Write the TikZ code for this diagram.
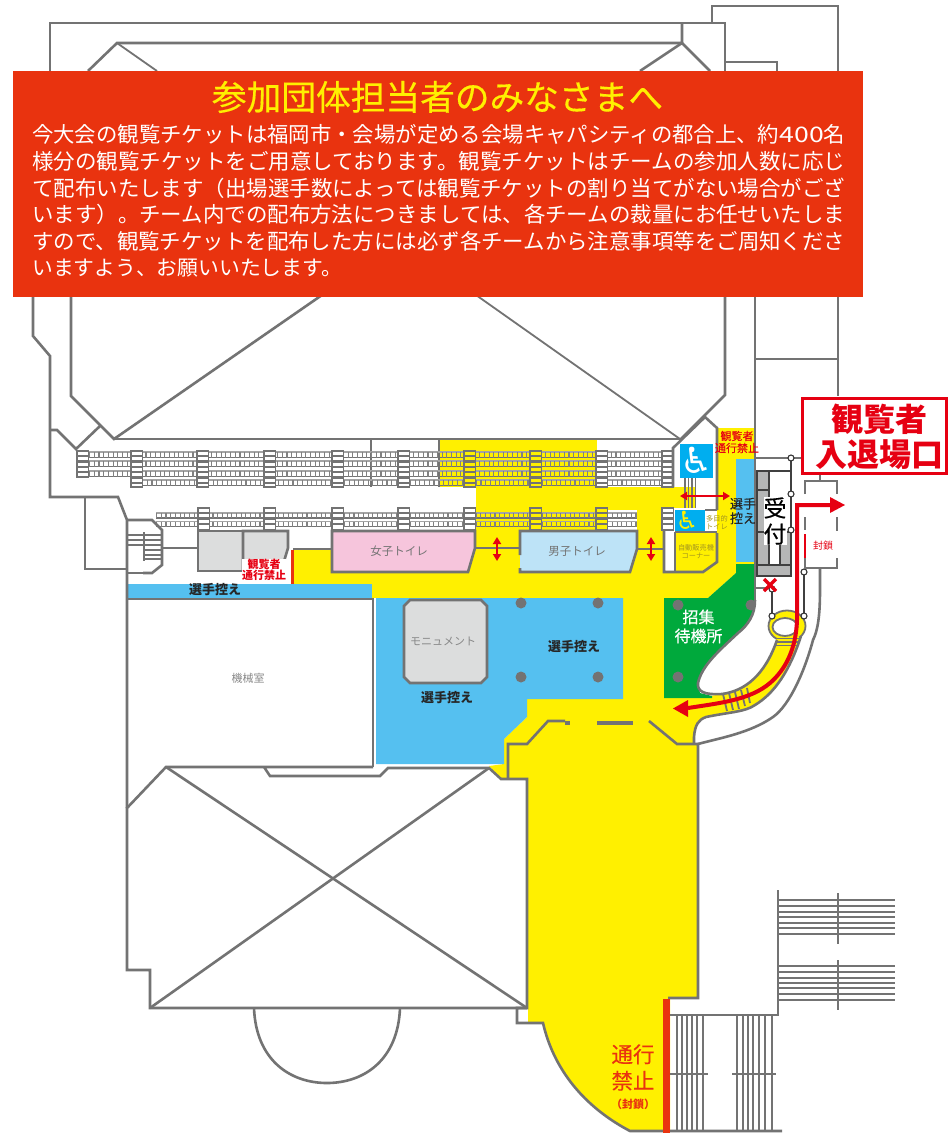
\documentclass[tikz,border=0pt]{standalone}
\usepackage{fontspec}
\usepackage{graphicx}
\usetikzlibrary{arrows.meta}
\setmainfont{Noto Sans CJK JP}
\newfontfamily\djv{DejaVu Sans}
\definecolor{wallc}{HTML}{737373}
\definecolor{yel}{HTML}{FFF000}
\definecolor{sky}{HTML}{55C0F0}
\definecolor{grn}{HTML}{00A93C}
\definecolor{banc}{HTML}{E9330F}
\definecolor{redc}{HTML}{E60012}
\definecolor{roomg}{HTML}{DCDDDD}
\definecolor{pinkc}{HTML}{F6C5DC}
\definecolor{bluec}{HTML}{BDE3F7}
\definecolor{wcblue}{HTML}{00AEEF}
\definecolor{tanc}{HTML}{A39520}
\definecolor{recg}{HTML}{B5B6B6}
\newcommand{\fz}[1]{\fontsize{#1pt}{#1pt}\selectfont}
\newcommand{\semib}{\addfontfeature{FakeBold=0.35}}
\tikzset{
 wall/.style={draw=wallc,line width=2.6pt,line join=miter},
 thinwall/.style={draw=wallc,line width=1.8pt},
 lbl/.style={inner sep=0pt,align=center},
 rung/.style={draw=wallc,line width=2.3pt},
 stairbox/.style={draw=wallc,line width=1.9pt},
 stairline/.style={draw=wallc,line width=2.8pt},
 pin/.style={circle,draw=black!80,fill=white,line width=1.1pt,inner sep=0pt,minimum size=6pt},
 pinline/.style={draw=black!75,line width=1.4pt},
 dbl/.style={draw=redc,line width=2pt,{Triangle[width=8pt,length=7pt]}-{Triangle[width=8pt,length=7pt]}},
 route/.style={draw=redc,line width=4pt},
 pillar/.style={fill=wallc,draw=none},
 bodytxt/.style={lbl,anchor=west,text=white,font=\fz{20.8}},
}
\newcommand{\seatrow}[4]{% x1 x2 y h
 \draw[draw=wallc!65,line width=1.1pt] (#1,#3) -- (#2,#3);
 \draw[draw=wallc,line width=1.4pt] (#1,{#3+#4}) -- (#2,{#3+#4});
 \draw[draw=wallc!90,line width=#4pt,dash pattern=on 1.1pt off 3.6pt] (#1,{#3+#4/2}) -- (#2,{#3+#4/2});
}
\newcommand{\stairblock}[4]{% x y1 y2 fill
 \draw[stairbox,fill=#4] (#1,#2) rectangle ({#1+11.5},#3);
 \pgfmathtruncatemacro\nr{(#3-#2)/5.3-0.3}
 \foreach \k in {1,...,\nr} \draw[rung] (#1,{#2+\k*5.3}) -- ({#1+11.5},{#2+\k*5.3});
}
\newcommand{\bodyline}[2]{\node[bodytxt] at (32,#1) {\resizebox{813pt}{!}{#2}};}
\begin{document}
\begin{tikzpicture}[x=1pt,y=-1pt]
\useasboundingbox (0,0) rectangle (948,1133);
\fill[white] (0,0) rectangle (948,1133);
% ---------- colour areas
\fill[yel] (440,440) rectangle (597,487);
\fill[yel] (476,487) rectangle (695,549);
\fill[yel] (293,549) rectangle (664,598);
\fill[white] (607,510) rectangle (637,530);
\fill[white] (664,508) rectangle (717,549);
\fill[yel] (717,428) rectangle (755,564);
\fill[yel] (675,532) -- (717,532) -- (717,562) -- (703,572) -- (675,572) -- cycle;
\fill[yel] (664,572) -- (703,572) -- (717,562) -- (736,562) -- (736,573) -- (708,598) -- (664,598) -- cycle;
\fill[yel] (527,698) -- (623,698) -- (623,598) -- (664,598) -- (664,698) -- (698,698) -- (722,694)
  .. controls (745,691) and (765,675) .. (777,640) -- (801,636)
  .. controls (790,670) and (775,693) .. (755,705)
  .. controls (745,712) and (730,712) .. (706,717)
  .. controls (698,720) and (695,725) .. (694,737) -- (694,744) -- (698,744) -- (698,998) -- (670,998) -- (670,1131) -- (630,1131)
  .. controls (590,1110) and (555,1075) .. (543,1023) -- (528,1023) -- (528,779) -- (508,779) -- (501,779) -- (489,766) -- (504,764) -- (504,739) -- (527,717) -- cycle;
\fill[sky] (376,598) -- (623,598) -- (623,699) -- (527,699) -- (527,717) -- (504,739) -- (504,764) -- (376,764) -- cycle;
\fill[sky] (127,584) rectangle (372,598);
\fill[sky] (736,459) rectangle (755,562);
\fill[grn] (736,573) -- (736,564) -- (755,564) -- (755,600)
  .. controls (755,615) and (748,625) .. (738,633)
  .. controls (720,650) and (702,665) .. (698,683)
  -- (700,693) -- (712,696) -- (712,698) -- (664,698) -- (664,598) -- (708,598) -- cycle;
% ---------- upper building walls
\draw[wall] (50,80) -- (50,23) -- (725,23) -- (725,80);
\draw[wall] (712,23) -- (712,6) -- (838,6) -- (838,80);
\draw[wall] (725,62) -- (777,62) -- (777,80);
\draw[wall] (682,23) -- (682,43) -- (117,43) -- (88,71);
\draw[thinwall] (117,43) -- (157,71);
\draw[wall] (640,71) -- (682,43) -- (710,71);
\draw[wall] (33,290) -- (33,336) -- (50,356) -- (50,497) -- (118,497) -- (127,520) -- (127,808);
\draw[wall] (85,497) -- (85,569) -- (127,569);
\draw[wall] (71,290) -- (71,396) -- (114,439) -- (322,295);
\draw[wall] (100,426) -- (76,449) -- (57,430) -- (50,430);
\draw[wall] (114,439) -- (680,439);
\draw[thinwall] (476,295) -- (680,439);
\draw[wall] (680,440) -- (725,395) -- (725,290);
\draw[wall] (755,290) -- (755,600);
\draw[wall] (838,290) -- (838,396);
\draw[wall] (755,359) -- (838,359);
\draw[wall] (371,440) -- (371,487);
\draw[wall] (439,440) -- (439,487);
% ---------- seats
\foreach \yy in {452,461,471} {\seatrow{89}{662}{\yy}{5.5}}
\seatrow{142}{662}{480}{5.5}
\foreach \yy in {513,521.5} {\seatrow{156}{637}{\yy}{5}}
\stairblock{77}{451}{477}{white}
\foreach \xx in {131,197,264,332,398,596} {\stairblock{\xx}{451}{487}{white}}
\foreach \xx in {464,530} {\stairblock{\xx}{451}{487}{yel}}
\foreach \xx in {198,264,332,398,464} {\stairblock{\xx}{508}{530}{white}}
\foreach \xx in {530,596} {\stairblock{\xx}{508}{530}{yel}}
% ---------- wheelchair room
\fill[white] (673,448) -- (705,417) -- (717,428) -- (717,478) -- (673,478) -- cycle;
\stairblock{662}{451}{487}{white}
\draw[wall] (673,487) -- (673,448) -- (705,417) -- (717,428) -- (717,510);
\fill[wcblue] (680,444) rectangle (713,478);
\node[lbl,text=white,font=\djv\fz{36}] (wca) at (696.5,460) {♿};
\foreach \xx in {685,688.5,692,695.5} {\draw[draw=wallc,line width=1.4pt] (\xx,478) -- (\xx,508);}
\stairblock{662}{508}{530}{white}
\fill[wcblue] (675,510) rectangle (705,532);
\node[lbl,text=yel,font=\djv\fz{25}] (wcb) at (687,520.5) {♿};
\draw[wall] (705,510) -- (717,510);
\draw[wall] (664,530) -- (664,572) -- (703,572) -- (717,562) -- (717,533);
\draw[wall] (675,532) -- (675,572);
\draw[wall] (675,532) -- (717,532);
% ---------- rooms row
\draw[wall] (127,520) -- (152,520) -- (162,530) -- (162,565) -- (152,573) -- (143,573);
\draw[thinwall] (127,573) -- (143,573);
\foreach \yy in {535,540,545} {\draw[stairline] (127,\yy) -- (161,\yy);}
\foreach \yy in {550,555,559} {\draw[stairline] (144,\yy) -- (161,\yy);}
\draw[stairline] (144,532) -- (144,561);
\draw[wall] (162,548) -- (198,548);
\draw[wall,fill=roomg] (198,531) rectangle (243,571);
\fill[roomg] (243,531) -- (288,531) -- (288,548) -- (281,571) -- (243,571) -- cycle;
\draw[wall] (243,571) -- (243,531) -- (288,531) -- (288,548) -- (282,568);
\fill[banc] (290.5,550) rectangle (293.5,584);
\draw[wall] (293,549) -- (332,549);
\draw[wall,fill=pinkc] (332,531) -- (475,531) -- (475,548) -- (468,572) -- (332,572) -- cycle;
\draw[wall] (475,548) -- (520,548);
\fill[bluec] (520,531) -- (637,531) -- (637,549) -- (630,572) -- (520,572) -- cycle;
\draw[wall] (520,555) -- (520,531) -- (637,531) -- (637,549) -- (630,572) -- (520,572) -- (520,568);
\draw[wall] (637,549) -- (664,549);
% ---------- machine room and hall
\draw[wall] (127,599) -- (373,599) -- (373,767);
\draw[wall] (373,767) -- (166,767) -- (127,808) -- (127,970) -- (150,970) -- (150,1008) -- (527,1008) -- (527,779) -- (501,779) -- (489,768) -- (388,768) -- (380,776) -- (270,776) -- (264,767);
\draw[wall] (166,767) -- (527,1008);
\draw[wall] (489,768) -- (150,1008);
\draw[wall] (254,1008) .. controls (256,1060) and (290,1083) .. (327,1083) .. controls (364,1083) and (398,1060) .. (400,1008);
\draw[wall] (508,779) -- (508,744) -- (527,744) -- (548,721) -- (565,721);
\draw[line width=4.5pt,draw=wallc] (565,723) -- (570,723);
\draw[line width=4.5pt,draw=wallc] (597,723) -- (633,723);
\draw[wall] (649,721) -- (677,744) -- (698,744) -- (698,998) -- (668,998);
\draw[wall] (527,1008) -- (517,1008) -- (517,1023) -- (543,1023) .. controls (555,1075) and (590,1110) .. (630,1131) -- (782,1131);
\draw[wall] (670,1015) -- (778,1015) -- (778,890);
\foreach \xx in {677,682,687,692,697,703,737,743,748,753,759,765,772} {\draw[stairline] (\xx,1015) -- (\xx,1131);}
\draw[stairline] (670,1074) -- (708,1074);
\draw[stairline] (732,1074) -- (776,1074);
\foreach \yy in {900,906,912,917,923,928,934,966,972,978,983,988,994,1000} {\draw[stairline] (778,\yy) -- (895,\yy);}
\draw[stairline] (838,893) -- (838,944);
\draw[stairline] (838,960) -- (838,1010);
\fill[banc] (663,999) rectangle (670,1133);
% ---------- monument and pillars
\draw[wall,fill=roomg] (410,600) -- (481,600) -- (487,606) -- (487,677) -- (481,683) -- (410,683) -- (404,677) -- (404,606) -- cycle;
\foreach \xx in {521,598} {\fill[pillar] (\xx,603) circle[radius=5.5pt]; \fill[pillar] (\xx,677) circle[radius=5.5pt];}
\fill[pillar] (678,605) circle[radius=5.5pt];
\fill[pillar] (678,677) circle[radius=5.5pt];
\begin{scope}
\clip (740,590) rectangle (755,620);
\fill[pillar] (751,605) circle[radius=5.5pt];
\end{scope}
% ---------- ramp
\fill[yel] (787,626) ellipse[x radius=18.5pt,y radius=15.5pt];
\draw[thinwall] (787,626) ellipse[x radius=18.5pt,y radius=15.5pt];
\fill[white] (785,627) ellipse[x radius=12.5pt,y radius=9pt];
\draw[thinwall] (785,627) ellipse[x radius=12.5pt,y radius=9pt];
\fill[yel] (777,637) -- (801,637) -- (795,655) -- (772,655) -- cycle;
\foreach \yy in {638.5,642,645.5} {\draw[draw=wallc,line width=1.4pt] (776,\yy) -- (799,\yy);}
\draw[wall] (755,600) .. controls (755,615) and (748,625) .. (738,633)
  .. controls (720,650) and (702,665) .. (698,683)
  .. controls (697,692) and (705,695) .. (722,694)
  .. controls (745,691) and (765,675) .. (777,640);
\draw[wall] (694,744) -- (694,737) .. controls (695,725) and (698,720) .. (706,717)
  .. controls (730,712) and (745,712) .. (755,705)
  .. controls (775,693) and (790,670) .. (801,636);
\draw[wall] (820,568) -- (820,590) .. controls (820,615) and (818,630) .. (813,640)
  .. controls (805,670) and (790,705) .. (773,717)
  .. controls (750,733) and (720,738) .. (698,744);
\foreach \aa/\bb/\cc/\dd in {723/694/727/711,729/693/733/710,735/692/739/709,741/690/745/706,747/688/750/703}
  {\draw[draw=wallc,line width=1.8pt] (\aa,\bb) -- (\cc,\dd);}
% ---------- reception
\fill[recg] (757,471) rectangle (769,532);
\fill[recg] (757,532) rectangle (769,565);
\fill[recg] (780,532) rectangle (791,565);
\fill[recg] (757,565) rectangle (791,576);
\draw[draw=black!75,line width=1.7pt] (757,471) rectangle (791,576);
\draw[draw=black!75,line width=1.3pt] (769,471) -- (769,565) (757,565) -- (791,565) (780,532) -- (780,565) (757,490) -- (769,490) (757,532) -- (791,532);
% ---------- pins
\draw[wall] (755,458) -- (801,458);
\draw[wall] (755,588) -- (772,588);
\draw[pinline] (791,458) -- (791,530);
\draw[pinline] (804,572) -- (804,616);
\draw[pinline] (772,589) -- (772,616);
\node[pin] (p1) at (791,458) {};
\node[pin] (p2) at (791,494) {};
\node[pin] (p3) at (791,530) {};
\node[pin] (p4) at (804,572) {};
\node[pin] (p5) at (804,616) {};
\node[pin] (p6) at (772,589) {};
\node[pin] (p7) at (772,616) {};
\draw[draw=redc,line width=3.4pt] (764,579) -- (776,591) (776,579) -- (764,591);
% ---------- closed door box
\draw[wall] (820,473) -- (820,481);
\draw[wall] (805,494) -- (805,481) -- (837,481) -- (837,494);
\draw[wall] (805,517) -- (805,530);
\draw[wall] (837,517) -- (837,531);
\draw[wall] (805,558) -- (805,568) -- (837,568) -- (837,558);
\draw[draw=redc,line width=2.2pt] (805,534) -- (805,558);
% ---------- route
\draw[route] (832,505) -- (797,505) -- (797,620) .. controls (796,650) and (785,670) .. (770,683)
  .. controls (750,700) and (720,703) .. (688,708);
\fill[redc] (830,497) -- (845,505) -- (830,513) -- cycle;
\fill[redc] (673,708.5) -- (688,700) -- (688,717) -- cycle;
% ---------- double arrows
\draw[dbl] (680,496) -- (730,496);
\draw[dbl] (497,537) -- (497,561);
\draw[dbl] (651,537) -- (651,561);
% ---------- entrance sign
\draw[draw=redc,line width=3pt,fill=white] (802,398) rectangle (946,473);
\node[lbl,text=redc,font=\fz{32}\bfseries] (ent1) at (879,419) {観覧者};
\node[lbl,text=redc,font=\fz{32}\bfseries] (ent2) at (879,455) {入退場口};
% ---------- banner
\fill[banc] (13,71) rectangle (863,297);
\node[lbl,text=yel,font=\fz{34.7}\semib] (title) at (437.5,97) {参加団体担当者のみなさまへ};
\bodyline{134}{今大会の観覧チケットは福岡市・会場が定める会場キャパシティの都合上、約\scalebox{1.25}[1]{400}名}
\bodyline{161}{様分の観覧チケットをご用意しております。観覧チケットはチームの参加人数に応じ}
\bodyline{188}{て配布いたします（出場選手数によっては観覧チケットの割り当てがない場合がござ}
\bodyline{214}{います）。チーム内での配布方法につきましては、各チームの裁量にお任せいたしま}
\bodyline{241}{すので、観覧チケットを配布した方には必ず各チームから注意事項等をご周知くださ}
\node[bodytxt] at (32,268) {いますよう、お願いいたします。};
% ---------- labels
\node[lbl,text=black!85,font=\fz{13}\bfseries] (w1) at (215,589.5) {選手控え};
\node[lbl,text=black!85,font=\fz{13}\bfseries] (w2) at (574,647) {選手控え};
\node[lbl,text=black!85,font=\fz{13}\bfseries] (w3) at (447,698) {選手控え};
\node[lbl,text=black!85,font=\fz{13}\semib] (w4) at (743,511) {選手\\[1.5pt]控え};
\node[lbl,text=wallc,font=\fz{11.5}] (t1) at (399,551) {女子トイレ};
\node[lbl,text=wallc,font=\fz{11.5}] (t2) at (577,551) {男子トイレ};
\node[lbl,text=wallc!85,font=\fz{11}] (m1) at (248,678) {機械室};
\node[lbl,text=wallc!85,font=\fz{11}] (m2) at (443,641) {モニュメント};
\node[lbl,text=white,font=\fz{16}\semib] (g1) at (698.5,626.5) {招集\\[3pt]待機所};
\node[lbl,text=black,fill=white,font=\fz{23}\semib] (r1) at (775,521) {受\\[3pt]付};
\node[lbl,text=redc,font=\fz{10}] (c1) at (823,546) {封鎖};
\node[lbl,text=banc,font=\fz{21.5}\semib] (c2) at (633,1067.5) {通行\\[5pt]禁止};
\node[lbl,text=banc,font=\fz{11}\bfseries] (c3) at (633,1104) {（封鎖）};
\node[lbl,text=redc,font=\fz{11}\semib] (n1) at (737,442) {観覧者\\[1pt]通行禁止};
\node[lbl,text=redc,fill=white,font=\fz{11}\bfseries] (n2) at (264,570) {観覧者\\[.5pt]通行禁止};
\node[lbl,text=tanc,font=\fz{7.2}] (s1) at (717,522.5) {多目的\\[1.5pt]トイレ};
\node[lbl,text=tanc,font=\fz{7.2}] (s2) at (696,551.5) {自動販売機\\[1.5pt]コーナー};
\end{tikzpicture}
\end{document}
